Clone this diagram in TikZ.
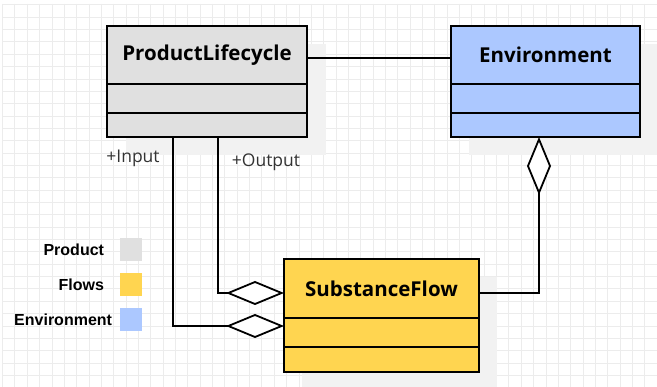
\documentclass[tikz,border=0pt]{standalone}
\usepackage{fontspec}
\setmainfont{Open Sans}
\newfontfamily\legendfont{Liberation Sans}
\usetikzlibrary{positioning,arrows.meta}

\definecolor{prodgray}{RGB}{224,224,224}
\definecolor{flowyellow}{RGB}{255,213,80}
\definecolor{envblue}{RGB}{172,200,255}
\definecolor{gridgray}{RGB}{236,236,236}
\definecolor{shadowgray}{RGB}{242,242,242}

\begin{document}
\begin{tikzpicture}[x=1pt, y=-1pt,
    every node/.append style={inner sep=0pt, outer sep=0pt},
    umlpart/.style={draw, line width=1.8pt, minimum width=#1},
    clstitle/.style={font=\bfseries\fontsize{20.5}{20.5}\selectfont},
    rolelbl/.style={text=black!80, font=\fontsize{17.5}{17.5}\selectfont},
    agg/.style={line width=1.8pt, -{Diamond[fill=white, length=58pt, width=24pt]}},
    swatch/.style={minimum width=22, minimum height=23},
    legtxt/.style={font=\legendfont\bfseries\fontsize{16}{16}\selectfont}]
        \useasboundingbox (0,0) rectangle (657,387);
        \fill [white] (0,0) rectangle (657,387);
        % grid
        \foreach \i in {0,...,53}
            \draw [gridgray, line width=1pt] (2.6+12.35*\i,4) -- (2.6+12.35*\i,387);
        \foreach \i in {0,...,31}
            \draw [gridgray, line width=1pt] (2,4.95+12.35*\i) -- (657,4.95+12.35*\i);
        % shadows
        \fill [shadowgray] (126,44) rectangle (326,155);
        \fill [shadowgray] (469,44) rectangle (659,155);
        \fill [shadowgray] (302,277) rectangle (497,390);

        \node [umlpart=200, fill=prodgray, minimum height=58, clstitle] (PL) at (207,55) {ProductLifecycle};
        \node [umlpart=200, fill=prodgray, minimum height=29, below=0pt of PL] (PLa) {};
        \node [umlpart=200, fill=prodgray, minimum height=24, below=0pt of PLa] (PLo) {};

        \node [umlpart=189, fill=envblue, minimum height=58, clstitle] (Env) at (545.5,55) {Environment};
        \node [umlpart=189, fill=envblue, minimum height=29, below=0pt of Env] (Enva) {};
        \node [umlpart=189, fill=envblue, minimum height=24, below=0pt of Enva] (Envo) {};

        \node [umlpart=195, fill=flowyellow, minimum height=59, clstitle] (SF) at (381.5,288.5) {SubstanceFlow};
        \node [umlpart=195, fill=flowyellow, minimum height=29, below=0pt of SF] (SFa) {};
        \node [umlpart=195, fill=flowyellow, minimum height=25, below=0pt of SFa] (SFo) {};

        \node [rolelbl] (inlbl) at (133,158) {+Input};
        \node [rolelbl] (outlbl) at (266,162) {+Output};

        \draw [line width=1.8pt] ([yshift=-3]PL.east) -- ([yshift=-3]Env.west);
        \draw [agg] ([xshift=-34]PLo.south) |- ([yshift=6.5]SFa.west);
        \draw [agg] ([xshift=11]PLo.south) |- ([yshift=-4.5]SF.west);
        \draw [agg] ([yshift=-4.5]SF.east) -| ([xshift=-6.5]Envo.south);

        % legend
        \node [swatch, fill=prodgray] (legP) at (131,250) {};
        \node [swatch, fill=flowyellow] (legF) at (131,284.5) {};
        \node [swatch, fill=envblue] (legE) at (131,319.5) {};
        \node [legtxt, left=16pt of legP] (legPt) {Product};
        \node [legtxt, left=16pt of legF] (legFt) {Flows};
        \node [legtxt, left=8pt of legE] (legEt) {Environment};
\end{tikzpicture}
\end{document}
